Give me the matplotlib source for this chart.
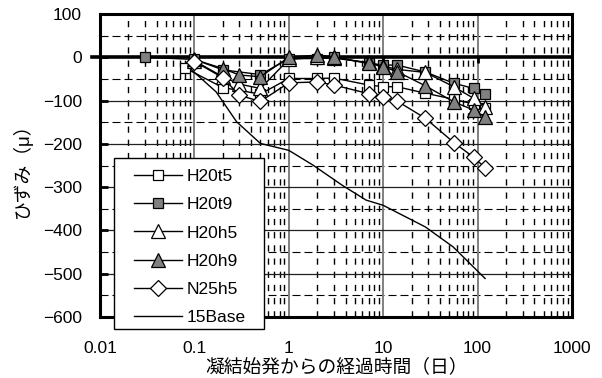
import numpy as np
import matplotlib
matplotlib.use("Agg")
from matplotlib import pyplot as plt
from matplotlib.patches import Rectangle
from matplotlib.ticker import FixedLocator, NullFormatter

plt.rcParams['font.family'] = ['Liberation Sans', 'Noto Sans CJK JP', 'DejaVu Sans']
plt.rcParams['axes.unicode_minus'] = True

# datos
t_h20t5 = [0.08, 0.2, 0.5, 1, 2, 3, 7, 10, 14, 28, 56, 91, 120]
v_h20t5 = [-25, -70, -85, -49, -49, -48, -64, -68, -68, -83, -97, -108, -118]

t_h20t9 = [0.03, 0.1, 0.2, 0.5, 1, 2, 3, 7, 10, 14, 28, 56, 91, 120]
v_h20t9 = [0, -5, -29, -40, -3, -3, 0, -14, -18, -18, -34, -60, -72, -84]

t_h20h5 = [0.1, 0.2, 0.3, 0.5, 1, 2, 3, 7, 10, 14, 28, 56, 91, 120]
v_h20h5 = [-8, -45, -62, -72, -5, 0, -2, -12, -20, -28, -35, -68, -95, -114]

t_h20h9 = [0.1, 0.2, 0.3, 0.5, 1, 2, 3, 7, 10, 14, 28, 56, 91, 120]
v_h20h9 = [-5, -26, -41, -45, 0, 5, 1, -14, -22, -33, -66, -103, -122, -138]

t_n25h5 = [0.1, 0.2, 0.3, 0.5, 1, 2, 3, 7, 10, 14, 28, 56, 91, 120]
v_n25h5 = [-10, -47, -88, -102, -59, -57, -64, -84, -91, -101, -141, -197, -231, -255]

t_base = [0.09, 0.17, 0.28, 0.5, 1, 1.8, 3.7, 6.6, 10, 28, 55, 120]
v_base = [-26, -80, -149, -199, -215, -249, -296, -330, -342, -392, -438, -511]

xticks = [0.01, 0.1, 1, 10, 100, 1000]
xlabels = ['0.01', '0.1', '1', '10', '100', '1000']
yticks = list(range(-600, 101, 100))

W, H = 602, 378
fig = plt.figure(figsize=(W / 100, H / 100), dpi=100)
ax = fig.add_axes([100 / W, 1 - 317 / H, 472 / W, 303 / H])

# rejilla
minor_x = [m * 10.0 ** e for e in range(-2, 3) for m in range(2, 10)]
for x in minor_x:
    ax.axvline(x, color='black', lw=1.0, ls=(0, (4.5, 5)), zorder=0)
for x in xticks[1:-1]:
    ax.axvline(x, color='#808080', lw=1.4, zorder=0.5)
for y in range(-550, 100, 100):
    ax.axhline(y, color='black', lw=0.8, ls=(0, (7.2, 3.6)), zorder=0)
for y in yticks[1:-1]:
    if y != 0:
        ax.axhline(y, color='#202020', lw=0.9, zorder=0.5)

# eje en cero
ax.plot([-0.018, 1], [0, 0], transform=ax.get_yaxis_transform(), color='black',
        lw=2.6, clip_on=False, zorder=1)
ax.vlines(xticks, -14, 0, color='black', lw=2, zorder=1)

mk = dict(color='black', lw=1.0, markeredgecolor='black', markeredgewidth=0.9)
ax.plot(t_h20t5, v_h20t5, marker='s', ms=7.8, markerfacecolor='white', label='H20t5', **mk)
ax.plot(t_h20t9, v_h20t9, marker='s', ms=7.8, markerfacecolor='#808080', label='H20t9', **mk)
ax.plot(t_h20h5, v_h20h5, marker='^', ms=9.5, markerfacecolor='white', label='H20h5', **mk)
ax.plot(t_h20h9, v_h20h9, marker='^', ms=9.5, markerfacecolor='#808080', label='H20h9', **mk)
ax.plot(t_n25h5, v_n25h5, marker='D', ms=8, markerfacecolor='white', label='N25h5', **mk)
ax.plot(t_base, v_base, color='black', lw=1.0, label='15Base')

ax.set_xscale('log')
ax.set_xlim(0.01, 1000)
ax.set_ylim(-600, 100)
ax.set_xticks(xticks, xlabels)
ax.xaxis.set_minor_locator(FixedLocator([]))
ax.xaxis.set_minor_formatter(NullFormatter())
ax.set_yticks(yticks)
ax.tick_params(axis='x', length=0, labelsize=12.5, pad=17.5)
ax.tick_params(axis='y', direction='in', length=6, width=2, labelsize=12.5, pad=13)

for s in ax.spines.values():
    s.set_linewidth(2.2)

ax.set_xlabel('凝結始発からの経過時間（日）', fontsize=13.5)
ax.xaxis.set_label_coords(0.502, -0.135)
ax.set_ylabel('ひずみ（μ）', fontsize=13.5)
ax.yaxis.set_label_coords(-0.145, 0.5)

# marco de la leyenda (sobresale por debajo del eje)
box = Rectangle((114 / W, 1 - 329 / H), 150 / W, 171 / H, transform=fig.transFigure,
                facecolor='white', edgecolor='black', lw=1.0, clip_on=False, zorder=4)
ax.add_patch(box)

leg = ax.legend(loc='upper left', bbox_to_anchor=(134 / W, 1 - 169 / H),
                bbox_transform=fig.transFigure, fontsize=12.5, handlelength=2.75,
                labelspacing=0.75, borderpad=0, handletextpad=0.3,
                borderaxespad=0, frameon=False)
leg.set_zorder(5)

fig.savefig('out.png', dpi=100)
